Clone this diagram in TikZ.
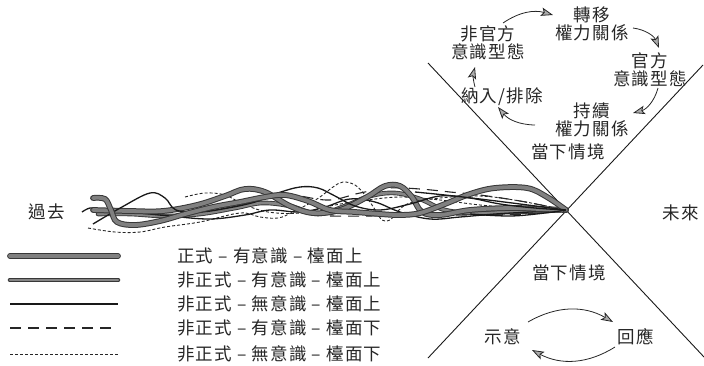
\documentclass[tikz,border=0pt]{standalone}
\usepackage{fontspec}
\newfontfamily\cjk[LetterSpace=7]{Noto Sans CJK TC}
\usetikzlibrary{arrows.meta}
\begin{document}
\begin{tikzpicture}[x=1pt,y=-1pt,
  lbl/.style={font=\cjk\fontsize{17.5}{18}\selectfont, text=black!85, inner sep=0pt, align=center},
  cyc/.style={draw=black!85, line width=0.8pt, -{Stealth[length=12pt,width=8.5pt,inset=2.5pt,fill=gray!65]}},
  xline/.style={draw=black!90, line width=0.9pt},
  thickA/.style={draw=black!50, line width=3.8pt, line cap=round,
     preaction={draw=black!78, line width=5.8pt, line cap=round}},
  thickB/.style={draw=black!48, line width=2.8pt, line cap=round,
     preaction={draw=black!78, line width=4.6pt, line cap=round}},
  solidl/.style={draw=black!90, line width=1.3pt},
  dashl/.style={draw=black!85, line width=1.1pt, dash pattern=on 11pt off 7pt},
  dotl/.style={draw=black!85, line width=0.9pt, dash pattern=on 3pt off 2pt},
  strand/.style={smooth, tension=0.6}
]
\useasboundingbox (0,0) rectangle (704,365);

% X lines
\coordinate (xa) at (428,63);
\coordinate (xb) at (704,357);
\coordinate (xc) at (703,65);
\coordinate (xd) at (428,358);
\coordinate (now) at (566.4,210.4);
\draw[xline] (xa) -- (xb);
\draw[xline] (xc) -- (xd);

% braid
\draw[dotl] plot[strand] coordinates {(88,228) (115,232) (140,232) (165,227) (200,222) (240,213) (260,217) (278,218) (293,212) (317,199) (333,187) (343,182) (355,185) (365,195) (374,208) (382,220) (390,220) (398,211) (410,203) (440,198) (480,196) (520,201) (566,210)};
\draw[dotl] plot[strand] coordinates {(185,197) (205,193) (225,195) (243,204) (268,212) (300,213) (330,206) (360,201) (400,197) (440,200) (480,205) (520,208) (566,210)};
\draw[dashl] plot[strand] coordinates {(250,201) (280,193) (300,196) (330,200) (360,193) (390,188) (420,189) (450,192) (480,195) (520,201) (566,210)};
\draw[dashl] plot[strand] coordinates {(330,216) (370,216) (410,214) (450,215) (485,215) (525,214) (566,210)};
\draw[thickB] plot[strand] coordinates {(98,214) (130,214) (165,216) (200,214) (235,208) (262,203) (290,206) (318,214) (345,206) (370,196) (395,193) (420,199) (445,210) (475,213) (510,212) (540,211) (566,210)};
\draw[solidl] plot[strand] coordinates {(82,212) (90,208) (100,209) (130,212) (170,216) (210,219) (245,215) (270,210) (300,212) (325,207) (350,199) (375,202) (400,212) (430,219) (460,217) (495,214) (530,212) (566,210)};
\draw[thickA] plot[strand] coordinates {(93,210) (130,211) (163,211) (197,205) (225,196) (245,189) (265,192) (290,206) (313,213) (340,210) (367,197) (385,186) (400,186) (412,197) (422,212) (440,215) (470,210) (510,208) (540,209) (566,210)};
\draw[solidl] plot[strand] coordinates {(93,224) (122,207) (150,193) (165,198) (176,210) (200,212) (228,208) (255,202) (278,193) (300,187) (318,188) (335,196) (355,206) (380,210) (410,204) (440,196) (470,198) (500,204) (535,208) (566,210)};
\draw[thickA] plot[strand] coordinates {(93,198) (105,199) (111,210) (117,222) (135,225) (160,221) (185,214) (213,207) (240,202) (265,197) (285,195) (308,201) (330,210) (355,212) (380,214) (400,215) (420,213) (445,204) (470,194) (495,188) (527,188) (547,197) (566,210)};
\draw[solidl] plot[strand] coordinates {(415,192) (445,195) (480,199) (520,204) (566,210)};
\draw[solidl] plot[strand] coordinates {(470,214) (510,216) (545,213) (566,210)};

% labels
\node[lbl] (past) at (47,212) {過去};
\node[lbl] (future) at (681,213) {未來};

\node[lbl] (n1) at (488,43) {非官方\\意識型態};
\node[lbl] (n2) at (592,24) {轉移\\權力關係};
\node[lbl] (n3) at (650,70) {官方\\意識型態};
\node[lbl] (n4) at (592,120) {持續\\權力關係};
\node[lbl] (n5) at (502,97) {納入/排除};
\node[lbl] (ctx1) at (568,152) {當下情境};
\node[lbl] (ctx2) at (569,273) {當下情境};
\node[lbl] (s1) at (503,337) {示意};
\node[lbl] (s2) at (636,337) {回應};

% cycle arrows
\draw[cyc] ([shift={(15,-20)}]n1.center) to[bend left=25] ([shift={(-39,-9)}]n2.center);
\draw[cyc] ([shift={(41,4)}]n2.center) to[bend left=30] ([shift={(9,-22)}]n3.center);
\draw[cyc] ([shift={(8,18)}]n3.center) to[bend left=30] ([shift={(41,-7)}]n4.center);
\draw[cyc] ([shift={(-57,5)}]n4.center) to[bend left=25] ([shift={(-4,10)}]n5.center);
\draw[cyc] ([shift={(-27,-10)}]n5.center) to[bend left=15] ([shift={(-13,24)}]n1.center);

\draw[cyc] ([shift={(25,-15)}]s1.center) to[bend left=30] ([shift={(-23,-15)}]s2.center);
\draw[cyc] ([shift={(-21,10)}]s2.center) to[bend left=30] ([shift={(29,13)}]s1.center);

% legend
\draw[thickA] (10,256) -- (118,256);
\draw[thickB] (10,280) -- (118,280);
\draw[solidl] (10,304) -- (118,304);
\draw[dashl] (10,328) -- (118,328);
\draw[dotl] (10,354) -- (118,354);
\node[lbl, anchor=west] (l1) at (177,256) {正式 – 有意識 – 檯面上};
\node[lbl, anchor=west] (l2) at (177,280) {非正式 – 有意識 – 檯面上};
\node[lbl, anchor=west] (l3) at (177,304) {非正式 – 無意識 – 檯面上};
\node[lbl, anchor=west] (l4) at (177,328) {非正式 – 有意識 – 檯面下};
\node[lbl, anchor=west] (l5) at (177,354) {非正式 – 無意識 – 檯面下};
\end{tikzpicture}
\end{document}
